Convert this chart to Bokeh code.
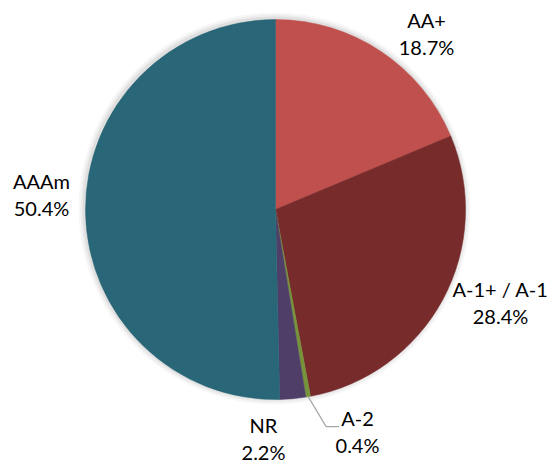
import math
from bokeh.plotting import figure
from bokeh.models import Range1d, ColumnDataSource
from bokeh.core.properties import value
from bokeh.embed import file_html
from bokeh.resources import INLINE

# Portfolio breakdown by rating (percent of total), clockwise from 12 o'clock
categories = ["AA+", "A-1+ / A-1", "A-2", "NR", "AAAm"]
shares = [18.7, 28.4, 0.4, 2.2, 50.4]
colors = ["#C0504D", "#772B2A", "#77933C", "#4F3E68", "#296677"]

W, H = 548, 463
CX, CY, R = 275, 254, 190          # pie centre (y measured from bottom) and radius
FONT = "Lato"
FONT_SIZE = "20px"
LINE_GAP = 27

total = sum(shares)
starts, ends, mids = [], [], []
acc = 0.0
for v in shares:
    a0 = math.pi / 2 - 2 * math.pi * acc / total
    acc += v
    a1 = math.pi / 2 - 2 * math.pi * acc / total
    starts.append(a0)
    ends.append(a1)
    mids.append((a0 + a1) / 2)

p = figure(width=W, height=H, x_range=Range1d(0, W), y_range=Range1d(0, H),
           output_backend="svg", toolbar_location=None, min_border=0)
p.axis.visible = False
p.grid.visible = False
p.outline_line_color = None
p.background_fill_color = "white"

# soft outer shadow
for dr, a in [(6, 0.03), (4, 0.04), (2, 0.06)]:
    p.circle(x=[CX - 1], y=[CY + 1], radius=R + dr, fill_color="#000000",
             fill_alpha=a, line_color=None)

src = ColumnDataSource(dict(start=starts, end=ends, color=colors))
p.wedge(x=CX, y=CY, radius=R, start_angle="start", end_angle="end",
        direction="clock", fill_color="color", line_color="color",
        line_width=0.5, source=src)

# label anchors (centre of the two-line label block, y from top)
label_pos = {
    "AA+": (426, 33),
    "A-1+ / A-1": (500, 302),
    "A-2": (357, 431),
    "NR": (263, 438),
    "AAAm": (41, 194),
}
name_x, name_y, pct_x, pct_y, names, pcts = [], [], [], [], [], []
for c, v in zip(categories, shares):
    x, ytop = label_pos[c]
    y = H - ytop
    name_x.append(x); name_y.append(y + LINE_GAP / 2)
    pct_x.append(x); pct_y.append(y - LINE_GAP / 2)
    names.append(c); pcts.append(f"{v:.1f}%")

for xs, ys, ts in [(name_x, name_y, names), (pct_x, pct_y, pcts)]:
    p.text(x=xs, y=ys, text=ts, text_font=value(FONT), text_font_size=FONT_SIZE,
           text_color="#000000", text_align="center", text_baseline="middle")

# leader line for the thin A-2 slice
k = categories.index("A-2")
ex = CX + R * math.cos(mids[k])
ey = CY + R * math.sin(mids[k])
p.line(x=[ex, ex + 18, ex + 31], y=[ey, ey - 30, ey - 30],
       line_color="#A6A6A6", line_width=1.2)

open("out.html", "w").write(file_html(p, INLINE))
